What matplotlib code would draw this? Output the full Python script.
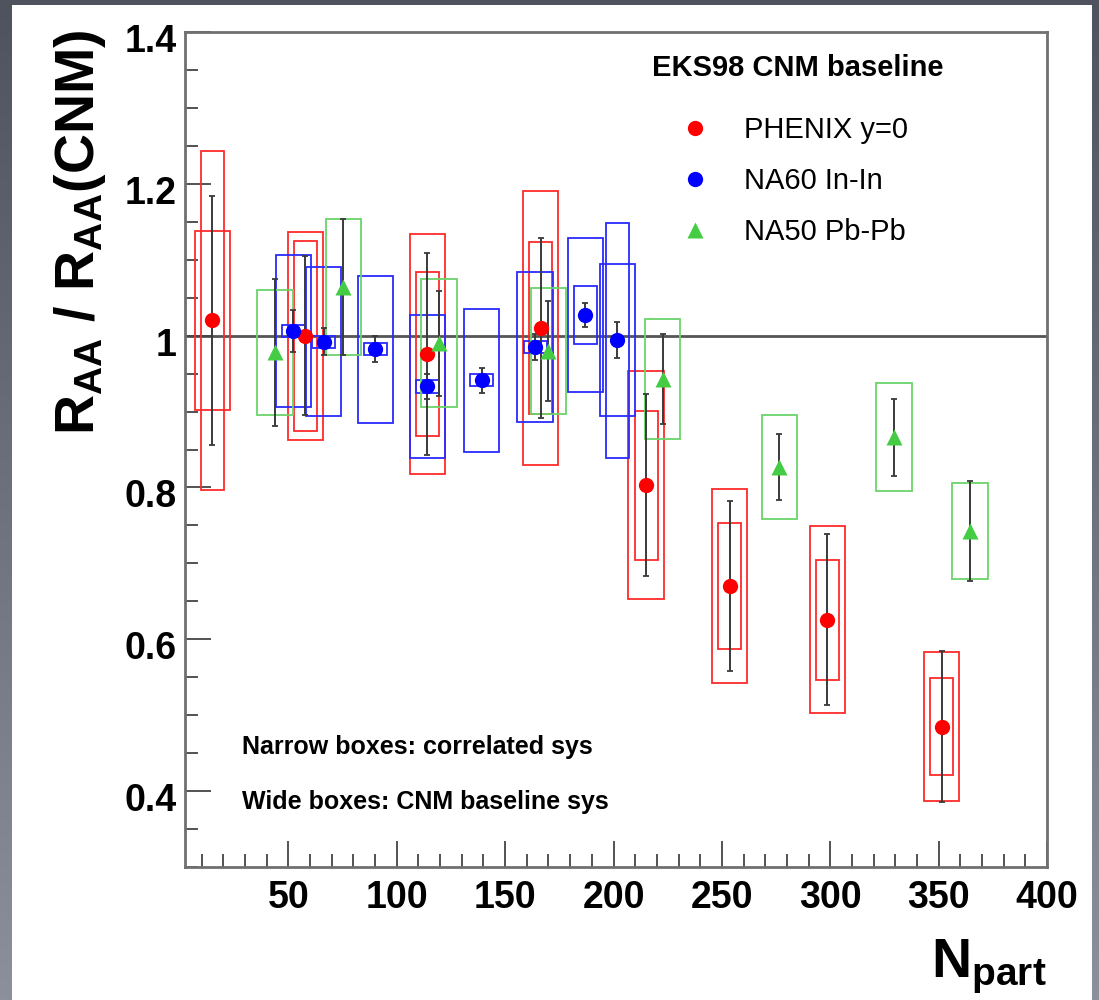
import matplotlib
matplotlib.use('Agg')
import matplotlib.pyplot as plt
import numpy as np
from matplotlib.patches import Rectangle
from matplotlib.lines import Line2D
from matplotlib.transforms import ScaledTranslation
from matplotlib.ticker import FixedLocator, MultipleLocator, FuncFormatter

plt.rcParams['font.family'] = ['Liberation Sans', 'DejaVu Sans']
plt.rcParams['mathtext.fontset'] = 'custom'
plt.rcParams['mathtext.rm'] = 'Liberation Sans:bold'
plt.rcParams['mathtext.it'] = 'Liberation Sans:bold'
plt.rcParams['mathtext.bf'] = 'Liberation Sans:bold'

# PHENIX y=0
phx_npart = [14.9, 57.7, 114.1, 166.4, 215.0, 253.7, 298.7, 351.4]
phx_ratio = [1.020, 1.000, 0.976, 1.010, 0.803, 0.670, 0.626, 0.485]
phx_stat = [0.164, 0.105, 0.133, 0.118, 0.120, 0.112, 0.113, 0.100]
phx_corr = [0.223, 0.125, 0.108, 0.113, 0.098, 0.083, 0.079, 0.064]   # narrow boxes
phx_cnm = [0.118, 0.137, 0.158, 0.180, 0.150, 0.128, 0.123, 0.098]    # wide boxes

# NA60 In-In
na60_npart = [52.3, 66.4, 90.0, 114.1, 139.2, 163.8, 186.9, 201.8]
na60_ratio = [1.006, 0.992, 0.982, 0.933, 0.941, 0.985, 1.027, 0.994]
na60_stat = [0.028, 0.018, 0.017, 0.016, 0.016, 0.017, 0.016, 0.024]
na60_corr = [0.008, 0.008, 0.008, 0.008, 0.008, 0.008, 0.038, 0.155]
na60_cnm = [0.100, 0.098, 0.097, 0.094, 0.094, 0.099, 0.101, 0.100]

# NA50 Pb-Pb
na50_npart = [43.8, 75.4, 119.5, 169.9, 222.7, 276.4, 329.4, 364.5]
na50_ratio = [0.978, 1.064, 0.990, 0.980, 0.943, 0.827, 0.866, 0.743]
na50_stat = [0.097, 0.090, 0.069, 0.066, 0.059, 0.043, 0.051, 0.066]
na50_cnm = [0.082, 0.089, 0.084, 0.083, 0.079, 0.068, 0.071, 0.063]

y_ticks = [0.4, 0.6, 0.8, 1.0, 1.2, 1.4]

RED = '#ff2a2a'
BLUE = '#2a2aff'
GREEN = '#6ad46a'

fig = plt.figure(figsize=(10.99, 10.0), dpi=100)

# slide-like dark background with white panel
bg = fig.add_axes([0, 0, 1, 1], zorder=-10)
grad = np.linspace(0, 1, 256).reshape(-1, 1)
bg.imshow(grad, aspect='auto', cmap=matplotlib.colors.LinearSegmentedColormap.from_list(
    '', ['#4e535e', '#8c909a']), extent=[0, 1, 0, 1])
bg.set_axis_off()
fig.patches.append(Rectangle((12 / 1099, 0), 1080 / 1099, 0.995, transform=fig.transFigure,
                             facecolor='white', edgecolor='none', zorder=-5))

ax = fig.add_axes([185 / 1099, 0.133, 862 / 1099, 0.835])
ax.set_xlim(2.3, 400)
ax.set_ylim(0.3, 1.4)

ax.axhline(1.0, color='#555555', lw=2, zorder=1.5)


def draw_boxes(xs, ys, hs, half_w, color):
    for xi, yi, hi in zip(xs, ys, hs):
        ax.add_patch(Rectangle((xi - half_w, yi - hi), 2 * half_w, 2 * hi, fill=False,
                               edgecolor=color, lw=1.3, zorder=2))


W_WIDE = 8.1
W_NARROW = 5.3
draw_boxes(phx_npart, phx_ratio, phx_cnm, W_WIDE, RED)
draw_boxes(phx_npart, phx_ratio, phx_corr, W_NARROW, RED)
draw_boxes(na60_npart, na60_ratio, na60_cnm, W_WIDE, BLUE)
draw_boxes(na60_npart, na60_ratio, na60_corr, W_NARROW, BLUE)
draw_boxes(na50_npart, na50_ratio, na50_cnm, W_WIDE, GREEN)

for xs, ys, es in [(phx_npart, phx_ratio, phx_stat), (na60_npart, na60_ratio, na60_stat),
                   (na50_npart, na50_ratio, na50_stat)]:
    ax.errorbar(xs, ys, yerr=es, fmt='none', ecolor='#3a3a3a', elinewidth=1.4,
                capsize=2.5, capthick=1.3, zorder=3)

ax.plot(phx_npart, phx_ratio, 'o', color='#ff0000', ms=11, mec='none', zorder=4)
ax.plot(na60_npart, na60_ratio, 'o', color='#0000ff', ms=11, mec='none', zorder=4)
ax.plot(na50_npart, na50_ratio, '^', color='#44cc44', ms=11, mec='none', zorder=4)

# axes style
for s in ax.spines.values():
    s.set_color('#707070')
    s.set_linewidth(2)
ax.xaxis.set_major_locator(MultipleLocator(50))
ax.xaxis.set_minor_locator(MultipleLocator(10))
ax.yaxis.set_major_locator(FixedLocator(y_ticks))
ax.yaxis.set_minor_locator(FixedLocator(np.round(np.arange(0.30, 1.40, 0.05), 2)))
ax.yaxis.set_major_formatter(FuncFormatter(lambda v, p: f'{v:g}'))
ax.tick_params(which='both', direction='in', top=False, right=False, color='#444444', width=1.3)
ax.tick_params(which='major', length=19)
ax.tick_params(which='minor', length=9.5)
ax.tick_params(axis='x', which='major', pad=9, labelsize=27)
ax.tick_params(axis='y', which='major', pad=6, labelsize=27)
for lab in ax.get_xticklabels() + ax.get_yticklabels():
    lab.set_fontweight('bold')
for lab in ax.get_yticklabels():
    lab.set_transform(lab.get_transform() + ScaledTranslation(0, -6 / 100, fig.dpi_scale_trans))

# legend
ax.text(0.5418, 0.957, 'EKS98 CNM baseline', transform=ax.transAxes, fontsize=21,
        fontweight='bold', ha='left', va='center')
handles = [Line2D([], [], ls='none', marker='o', color='#ff0000', ms=11, mec='none'),
           Line2D([], [], ls='none', marker='o', color='#0000ff', ms=11, mec='none'),
           Line2D([], [], ls='none', marker='^', color='#44cc44', ms=11, mec='none')]
ax.legend(handles, ['PHENIX y=0', 'NA60 In-In', 'NA50 Pb-Pb'], loc='upper left',
          bbox_to_anchor=(0.5684, 0.899), frameon=False, fontsize=21, borderpad=0,
          borderaxespad=0, handlelength=1.38, handletextpad=1.0, labelspacing=0.78)

ax.text(0.066, 0.144, 'Narrow boxes: correlated sys', transform=ax.transAxes, fontsize=18,
        fontweight='bold', ha='left', va='center')
ax.text(0.066, 0.078, 'Wide boxes: CNM baseline sys', transform=ax.transAxes, fontsize=18,
        fontweight='bold', ha='left', va='center')

fig.text(52 / 1099, 1 - 30 / 1000, r'$\mathrm{R_{AA}}$ / $\mathrm{R_{AA}}$(CNM)', rotation=90,
         ha='left', va='top', fontsize=40, fontweight='bold')
fig.text(1047 / 1099, 0.023, r'$\mathrm{N_{part}}$', ha='right', va='baseline', fontsize=40)

fig.savefig('out.png', dpi=100)
